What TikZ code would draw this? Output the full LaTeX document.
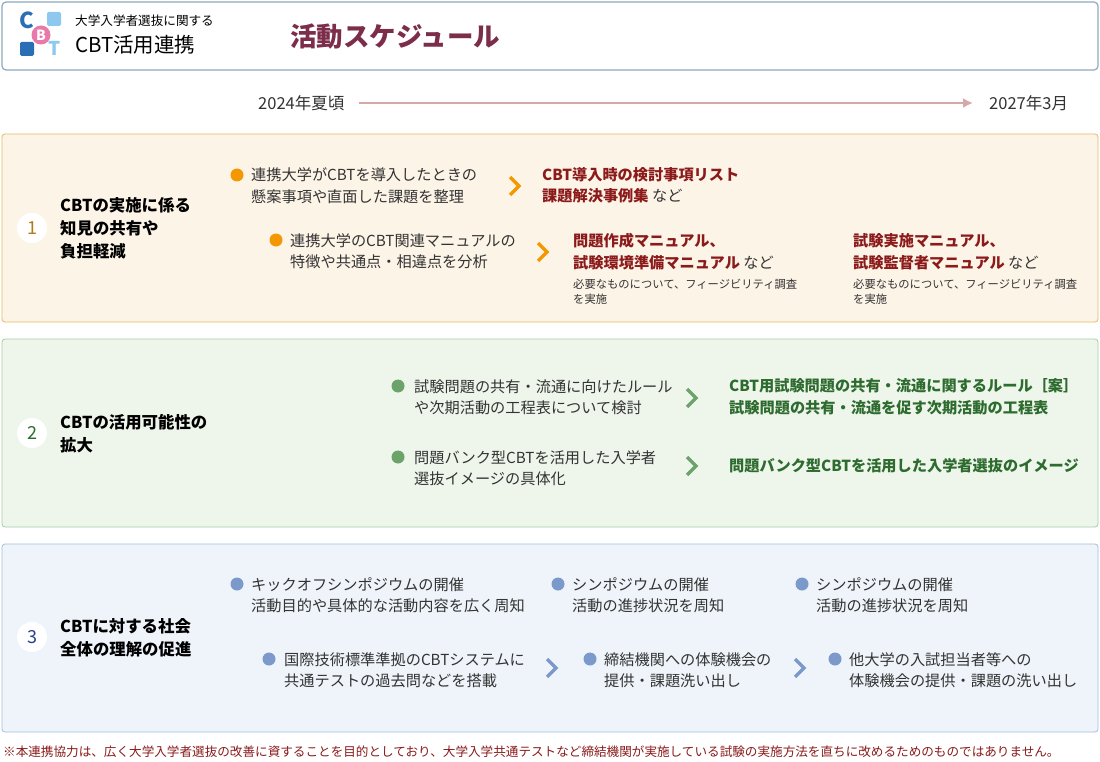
\documentclass[tikz,border=0pt]{standalone}
\usepackage{fontspec}
\usetikzlibrary{arrows.meta}
\setmainfont{Noto Sans CJK JP}
\definecolor{hdr}{HTML}{8FA9BE}
\definecolor{ttl}{HTML}{7B2D4A}
\definecolor{tl}{HTML}{D6A8A8}
\definecolor{txt}{HTML}{333333}
\definecolor{bgA}{HTML}{FDF4E8}\definecolor{bdA}{HTML}{E9B960}
\definecolor{bgB}{HTML}{EEF6EC}\definecolor{bdB}{HTML}{A6CDA2}
\definecolor{bgC}{HTML}{EEF4FA}\definecolor{bdC}{HTML}{A3C0DB}
\definecolor{orA}{HTML}{F39800}\definecolor{grB}{HTML}{6BA36B}\definecolor{blC}{HTML}{7B9ACB}
\definecolor{resA}{HTML}{8B1A1A}\definecolor{resB}{HTML}{2E6B2E}
\definecolor{numA}{HTML}{B07A1E}\definecolor{numC}{HTML}{2D3F8A}
\definecolor{lgB}{HTML}{2A6EB5}\definecolor{lgP}{HTML}{E879A8}\definecolor{lgL}{HTML}{8EC8EE}
\tikzset{
 tx/.style={anchor=west,inner sep=0,align=left,text=txt,font=\fontsize{15.2}{21.5}\selectfont},
 sm/.style={anchor=west,inner sep=0,align=left,text=txt,font=\fontsize{11.3}{15}\selectfont},
 rs/.style={tx,font=\fontsize{15.2}{21.5}\selectfont\bfseries},
 sec/.style={rounded corners=3pt,line width=0.8pt},
 num/.style={circle,fill=white,minimum size=30pt,inner sep=0,font=\fontsize{18}{18}\selectfont},
 stitle/.style={anchor=west,inner sep=0,align=left,text=black,font=\fontsize{16.4}{23}\selectfont\bfseries},
 chev/.style={line width=3.4pt},
}
\newcommand{\dotb}[3]{\fill[#1] (#2,#3) circle (6.5pt);}
\newcommand{\chevr}[3]{\draw[chev,#1] (#2-7,#3-9)--(#2+2,#3)--(#2-7,#3+9);}
\begin{document}
\begin{tikzpicture}[x=1pt,y=-1pt]
\useasboundingbox (0,0) rectangle (1100,762);
\fill[white] (0,0) rectangle (1100,762);
% header
\draw[hdr,line width=1.2pt,rounded corners=4pt,fill=white] (2,2) rectangle (1098,70);
% logo
\node[inner sep=0,text=lgB,font=\fontsize{22}{22}\selectfont\bfseries] (lc) at (27,20) {C};
\fill[lgL,rounded corners=1.5pt] (47,12) rectangle (61,26);
\fill[lgB,rounded corners=1.5pt] (20,42) rectangle (34,56);
\fill[lgP] (41,35) circle (9.5pt);
\node[inner sep=0,text=white,font=\fontsize{14}{14}\selectfont\bfseries] (lb) at (41,35) {B};
\node[inner sep=0,text=lgL,font=\fontsize{19}{19}\selectfont\bfseries] (lt) at (55,48) {T};
\node[anchor=west,inner sep=0,font=\fontsize{12.6}{12}\selectfont] (l1) at (75,21) {大学入学者選抜に関する};
\node[anchor=west,inner sep=0,font=\fontsize{20.5}{20}\selectfont] (l2) at (75,45) {CBT活用連携};
\node[anchor=west,inner sep=0,text=ttl,font=\fontsize{26.5}{26}\selectfont\bfseries] (title) at (290,37) {活動スケジュール};
% timeline
\node[anchor=west,inner sep=0,text=txt,font=\fontsize{16.5}{16}\selectfont] (t0) at (258,103) {2024年夏頃};
\node[anchor=west,inner sep=0,text=txt,font=\fontsize{16.5}{16}\selectfont] (t1) at (989,103) {2027年3月};
\draw[tl,line width=2.2pt,-{Latex[length=10pt,width=10pt]}] ([xshift=14pt]t0.east) -- ([xshift=-16pt]t1.west);
% section 1
\draw[sec,draw=bdA,fill=bgA] (2,134) rectangle (1098,322);
\node[num,text=numA] (n1) at (32,228) {1};
\node[stitle] (s1) at (60,228) {CBTの実施に係る\\知見の共有や\\負担軽減};
\dotb{orA}{237}{175}
\node[tx] (a1) at (251,185.5) {連携大学がCBTを導入したときの\\懸案事項や直面した課題を整理};
\chevr{orA}{517}{186}
\node[rs,text=resA] (a1r) at (542,185.5) {CBT導入時の検討事項リスト\\課題解決事例集 \textmd{\color{txt}など}};
\dotb{orA}{276}{240}
\node[tx] (a2) at (290,251) {連携大学のCBT関連マニュアルの\\特徴や共通点・相違点を分析};
\chevr{orA}{545}{252}
\node[rs,text=resA] (a2r) at (573,251.5) {問題作成マニュアル、\\試験環境準備マニュアル \textmd{\color{txt}など}};
\node[sm] (a2s) at (573,291.5) {必要なものについて、フィージビリティ調査\\を実施};
\node[rs,text=resA] (a3r) at (853,251.5) {試験実施マニュアル、\\試験監督者マニュアル \textmd{\color{txt}など}};
\node[sm] (a3s) at (853,291.5) {必要なものについて、フィージビリティ調査\\を実施};
% section 2
\draw[sec,draw=bdB,fill=bgB] (2,339) rectangle (1098,527);
\node[num,text=resB] (n2) at (32,433) {2};
\node[stitle] (s2) at (60,433.5) {CBTの活用可能性の\\拡大};
\dotb{grB}{398}{386}
\node[tx] (b1) at (414,397) {試験問題の共有・流通に向けたルール\\や次期活動の工程表について検討};
\chevr{grB}{694}{398}
\node[rs,text=resB] (b1r) at (729,397) {CBT用試験問題の共有・流通に関するルール［案］\\試験問題の共有・流通を促す次期活動の工程表};
\dotb{grB}{398}{457}
\node[tx] (b2) at (414,468) {問題バンク型CBTを活用した入学者\\選抜イメージの具体化};
\chevr{grB}{694}{466}
\node[rs,text=resB] (b2r) at (729,466) {問題バンク型CBTを活用した入学者選抜のイメージ};
% section 3
\draw[sec,draw=bdC,fill=bgC] (2,544) rectangle (1098,732);
\node[num,text=numC] (n3) at (32,637) {3};
\node[stitle] (s3) at (60,637.5) {CBTに対する社会\\全体の理解の促進};
\dotb{blC}{237}{584}
\node[tx] (c1) at (251,595) {キックオフシンポジウムの開催\\活動目的や具体的な活動内容を広く周知};
\dotb{blC}{558}{584}
\node[tx] (c2) at (572,595) {シンポジウムの開催\\活動の進捗状況を周知};
\dotb{blC}{802}{584}
\node[tx] (c3) at (816,595) {シンポジウムの開催\\活動の進捗状況を周知};
\dotb{blC}{269}{659}
\node[tx] (d1) at (284,670) {国際技術標準準拠のCBTシステムに\\共通テストの過去問などを搭載};
\chevr{blC}{554}{668}
\dotb{blC}{590}{659}
\node[tx] (d2) at (604,670) {締結機関への体験機会の\\提供・課題洗い出し};
\chevr{blC}{802}{668}
\dotb{blC}{835}{659}
\node[tx] (d3) at (849,670) {他大学の入試担当者等への\\体験機会の提供・課題の洗い出し};
% footnote
\node[anchor=west,inner sep=0,text=resA,font=\fontsize{12.6}{12}\selectfont] (fn) at (3,752) {※本連携協力は、広く大学入学者選抜の改善に資することを目的としており、大学入学共通テストなど締結機関が実施している試験の実施方法を直ちに改めるためのものではありません。};
\end{tikzpicture}
\end{document}
